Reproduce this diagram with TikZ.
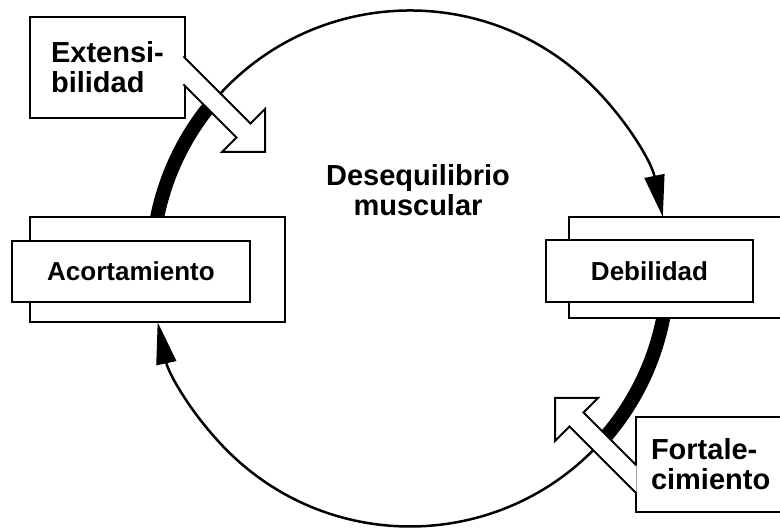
\documentclass[tikz,border=0pt]{standalone}
\usepackage{fontspec}
\setmainfont{Liberation Sans}
\usetikzlibrary{arrows.meta}

\begin{document}
\begin{tikzpicture}[x=1pt,y=1pt,
		backbox/.style={draw,line width=2pt,fill=white,inner sep=0pt},
		frontbox/.style={draw,line width=1.2pt,fill=white,inner sep=0pt,font=\fontsize{26}{28}\selectfont\bfseries},
		notebox/.style={draw,line width=2pt,fill=white,align=left,inner xsep=15pt,font=\fontsize{29}{30}\selectfont\bfseries},
		thinarc/.style={line width=2.5pt,-{Triangle[length=42pt,width=20pt]}},
		thickarc/.style={line width=14pt},
		hollow/.style={fill=white,line width=2pt,line join=miter}]
					\useasboundingbox (0,0) rectangle (780,529);
					\clip (0,0) rectangle (780,529);
					\coordinate (c) at (410,260.5);
					\draw[thickarc] (c) ++(175:258pt) arc[start angle=175,end angle=140.5,radius=258pt];
					\draw[thickarc] (c) ++(-5:258pt) arc[start angle=-5,end angle=-42.3,radius=258pt];
					\draw[thinarc] (c) ++(139:258pt) arc[start angle=139,end angle=11.5,radius=258pt];
					\draw[thinarc] (c) ++(-42.5:258pt) arc[start angle=-42.5,end angle=-168,radius=258pt];
					\node[backbox,minimum width=255pt,minimum height=105pt] (acortback) at (157.5,259.5) {};
					\node[frontbox,minimum width=238pt,minimum height=61pt] (acort) at (131,257.5) {Acortamiento};
					\node[backbox,anchor=west,minimum width=240pt,minimum height=101pt] (debback) at (568,261.5) {};
					\node[frontbox,minimum width=207pt,minimum height=62pt] (deb) at (649.5,258) {Debilidad};
					\node[notebox,minimum width=155pt,minimum height=101pt] (ext) at (107.5,461.5) {Extensi-\\bilidad};
					\node[notebox,anchor=west,minimum height=95pt] (fort) at (635,64.5) {Fortale-\\cimiento};
					\filldraw[hollow] (183.5,472.5) -- (250.5,405.5) -- (265,420) -- (265,377) -- (222,377) -- (236.5,391.5) -- (183.5,444.5);
					\filldraw[hollow] (636.5,63.5) -- (583.5,116.5) -- (598,131) -- (555,131) -- (555,88) -- (569.5,102.5) -- (636.5,35.5);
					\node[align=center,font=\fontsize{29}{30}\selectfont\bfseries] (deseq) at (418,339) {Desequilibrio\\muscular};
				\end{tikzpicture}
\end{document}
